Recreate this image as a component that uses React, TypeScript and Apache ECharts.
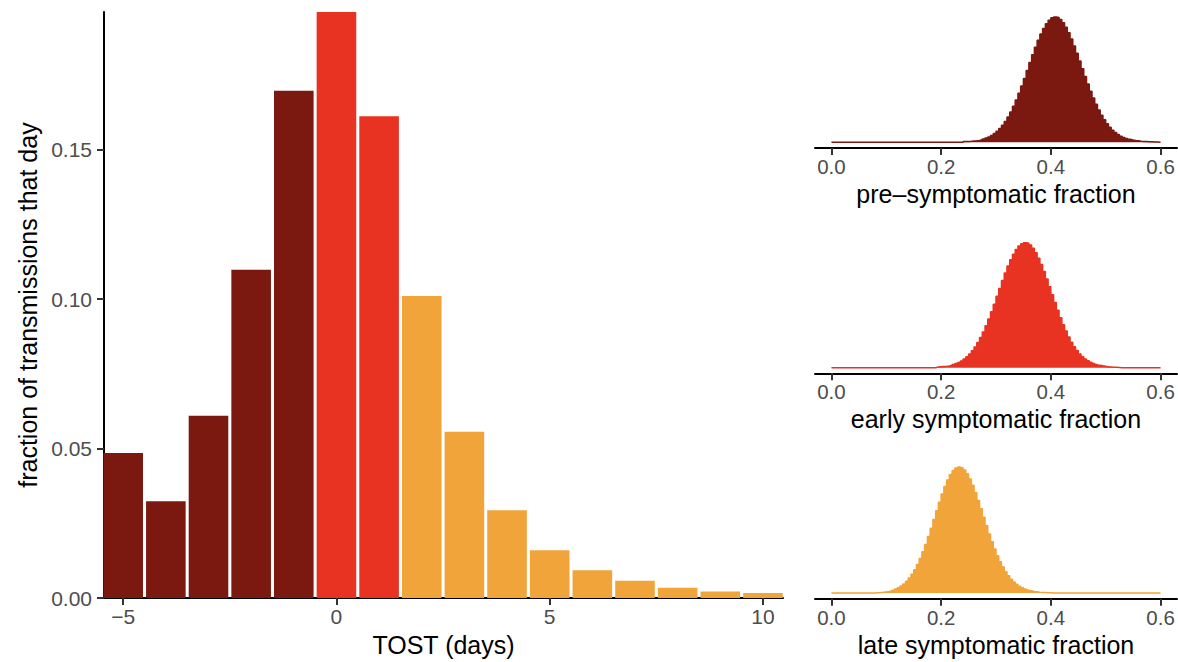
import React, { useEffect, useRef } from "react";
import * as echarts from "echarts";

// ---- Main chart data: TOST histogram ----
const tostDays = [-5, -4, -3, -2, -1, 0, 1, 2, 3, 4, 5, 6, 7, 8, 9, 10];
const tostFraction = [
  0.0485, 0.0324, 0.061, 0.1098, 0.1697, 0.196, 0.1611, 0.101,
  0.0556, 0.0294, 0.016, 0.0093, 0.0058, 0.0035, 0.0022, 0.0017,
];
const tostPhase = [
  "pre", "pre", "pre", "pre", "pre", "early", "early", "late",
  "late", "late", "late", "late", "late", "late", "late", "late",
];
const yTicks = [0, 0.05, 0.1, 0.15];
const xTicks = [-5, 0, 5, 10];

// ---- Right panels: posterior histograms (bin width 0.005, relative heights) ----
const binWidth = 0.005;
const fracTicks = [0, 0.2, 0.4, 0.6];

const preSympHist = [
  0, 0, 0, 0, 0, 0, 0, 0, 0, 0,
  0, 0, 0, 0, 0, 0, 0, 0, 0, 0,
  0, 0, 0, 0, 0, 0, 0, 0, 0, 0,
  0, 0, 0, 0, 0, 0, 0, 0, 0, 0,
  0, 0, 0, 0, 0, 0, 0, 0, 0.6, 0.7,
  0.8, 1.0, 1.2, 1.5, 2.0, 2.6, 3.4, 4.3, 5.5, 7.0,
  8.8, 11.0, 13.6, 16.7, 20.2, 24.2, 28.8, 33.8, 39.2, 45.0,
  51.0, 57.3, 63.6, 69.8, 75.8, 81.4, 86.5, 90.9, 94.6, 97.4,
  99.3, 100, 99.6, 98.0, 95.4, 91.8, 87.4, 82.4, 76.9, 71.0,
  64.9, 58.7, 52.6, 46.6, 40.8, 35.4, 30.4, 25.8, 21.7, 18.0,
  14.8, 12.0, 9.7, 7.8, 6.2, 4.9, 3.9, 3.1, 2.4, 1.9,
  1.5, 1.2, 0.9, 0.7, 0.6, 0.5, 0.4, 0.3, 0.2, 0.1,
];

const earlySympHist = [
  0, 0, 0, 0, 0, 0, 0, 0, 0, 0,
  0, 0, 0, 0, 0, 0, 0, 0, 0, 0,
  0, 0, 0, 0, 0, 0, 0, 0, 0, 0,
  0, 0, 0, 0, 0, 0, 0, 0, 0.5, 0.7,
  0.9, 1.1, 1.4, 1.9, 2.5, 3.3, 4.2, 5.4, 6.9, 8.7,
  10.9, 13.5, 16.6, 20.1, 24.1, 28.6, 33.6, 39.0, 44.8, 50.8,
  57.1, 63.4, 69.7, 75.7, 81.3, 86.4, 90.8, 94.5, 97.4, 99.2,
  100, 99.7, 98.2, 95.6, 92.0, 87.6, 82.5, 76.9, 70.9, 64.7,
  58.4, 52.1, 45.9, 40.0, 34.4, 29.3, 24.6, 20.4, 16.8, 13.7,
  11.0, 8.8, 7.0, 5.5, 4.3, 3.3, 2.6, 2.0, 1.5, 1.1,
  0.8, 0.6, 0.4, 0.3, 0.2, 0, 0, 0, 0, 0,
  0, 0, 0, 0, 0, 0, 0, 0, 0, 0,
];

const lateSympHist = [
  0, 0, 0, 0, 0, 0, 0, 0, 0, 0,
  0, 0, 0, 0, 0, 0, 0.3, 0.4, 0.6, 0.9,
  1.2, 1.7, 2.3, 3.1, 4.2, 5.5, 7.2, 9.3, 11.9, 14.9,
  18.5, 22.7, 27.4, 32.7, 38.5, 44.8, 51.4, 58.3, 65.2, 72.0,
  78.5, 84.5, 89.7, 94.1, 97.3, 99.3, 100, 99.4, 97.6, 94.6,
  90.5, 85.5, 79.7, 73.4, 66.8, 60.1, 53.4, 46.9, 40.7, 34.9,
  29.6, 24.8, 20.6, 16.9, 13.7, 11.0, 8.8, 6.9, 5.4, 4.2,
  3.2, 2.4, 1.8, 1.3, 1.0, 0.7, 0.5, 0.4, 0.3, 0.2,
  0, 0, 0, 0, 0, 0, 0, 0, 0, 0,
  0, 0, 0, 0, 0, 0, 0, 0, 0, 0,
  0, 0, 0, 0, 0, 0, 0, 0, 0, 0,
  0, 0, 0, 0, 0, 0, 0, 0, 0, 0,
];

const panelTitles = [
  "pre–symptomatic fraction",
  "early symptomatic fraction",
  "late symptomatic fraction",
];

const phaseColors: Record<string, string> = {
  pre: "#7B1810",
  early: "#E83322",
  late: "#F0A43A",
};
const panelColors = [phaseColors.pre, phaseColors.early, phaseColors.late];
const panelHists = [preSympHist, earlySympHist, lateSympHist];

const FONT = "'Liberation Sans', Arial, Helvetica, sans-serif";

function stepData(hist: number[]) {
  const pts: number[][] = hist.map((h, i) => [+(i * binWidth).toFixed(4), h]);
  pts.push([+(hist.length * binWidth).toFixed(4), hist[hist.length - 1]]);
  return pts;
}

function fmtMinus(v: number, digits: number) {
  const s = Math.abs(v).toFixed(digits);
  return v < 0 ? "\u2212" + s : s;
}

export default function App() {
  const ref = useRef<HTMLDivElement>(null);

  useEffect(() => {
    if (!ref.current) return;
    const chart = echarts.init(ref.current, null, { renderer: "svg" });

    const panelTops = [10.7, 236.5, 460.7];
    const panelHeights = [137.3, 136.8, 138];

    const grids: any[] = [
      { left: 104, top: 12, width: 679, height: 588, containLabel: false },
    ];
    panelTops.forEach((t, i) => {
      grids.push({ left: 815, top: t, width: 362, height: panelHeights[i], containLabel: false });
    });

    const axisLineStyle = { color: "#000", width: 2 };
    const tickStyle = { color: "#333", width: 2 };

    const xAxes: any[] = [
      {
        type: "value",
        gridIndex: 0,
        min: -5.45,
        max: 10.47,
        axisLine: { show: true, onZero: false, lineStyle: axisLineStyle },
        axisTick: { show: true, length: 7, lineStyle: tickStyle, customValues: xTicks },
        axisLabel: {
          customValues: xTicks,
          margin: 8,
          fontSize: 21,
          color: "#4D4D4D",
          fontFamily: FONT,
          formatter: (v: number) => (xTicks.indexOf(v) >= 0 ? fmtMinus(v, 0) : ""),
        },
        splitLine: { show: false },
        name: "TOST (days)",
        nameLocation: "middle",
        nameGap: 33.5,
        nameTextStyle: { fontSize: 25, color: "#000", fontFamily: FONT },
      },
    ];
    const yAxes: any[] = [
      {
        type: "value",
        gridIndex: 0,
        min: 0,
        max: 0.196,
        interval: 0.05,
        axisLine: { show: true, onZero: false, lineStyle: axisLineStyle },
        axisTick: { show: true, length: 7, lineStyle: tickStyle, customValues: yTicks },
        axisLabel: {
          customValues: yTicks,
          margin: 12,
          fontSize: 21,
          color: "#4D4D4D",
          fontFamily: FONT,
          formatter: (v: number) =>
            yTicks.some((t) => Math.abs(t - v) < 1e-9) ? v.toFixed(2) : "",
        },
        splitLine: { show: false },
        name: "fraction of transmissions that day",
        nameLocation: "middle",
        nameGap: 58.5,
        nameTextStyle: { fontSize: 25, color: "#000", fontFamily: FONT },
      },
    ];

    panelTitles.forEach((title, i) => {
      xAxes.push({
        type: "value",
        gridIndex: i + 1,
        min: -0.03,
        max: 0.63,
        axisLine: { show: true, onZero: false, lineStyle: axisLineStyle },
        axisTick: { show: true, length: 7, lineStyle: tickStyle, customValues: fracTicks },
        axisLabel: {
          customValues: fracTicks,
          margin: 8,
          fontSize: 20.5,
          color: "#4D4D4D",
          fontFamily: FONT,
          formatter: (v: number) =>
            fracTicks.some((t) => Math.abs(t - v) < 1e-9) ? v.toFixed(1) : "",
        },
        splitLine: { show: false },
        name: title,
        nameLocation: "middle",
        nameGap: 33.5,
        nameTextStyle: { fontSize: 25, color: "#000", fontFamily: FONT },
      });
      yAxes.push({
        type: "value",
        gridIndex: i + 1,
        min: -4.5,
        max: 105,
        show: false,
        axisLine: { show: false },
        splitLine: { show: false },
      });
    });

    const series: any[] = [
      {
        type: "bar",
        xAxisIndex: 0,
        yAxisIndex: 0,
        barWidth: 39.6,
        clip: true,
        data: tostDays.map((d, i) => ({
          value: [d, tostFraction[i]],
          itemStyle: { color: phaseColors[tostPhase[i]] },
        })),
      },
    ];
    panelHists.forEach((hist, i) => {
      series.push({
        type: "line",
        xAxisIndex: i + 1,
        yAxisIndex: i + 1,
        step: "end",
        symbol: "none",
        data: stepData(hist),
        lineStyle: { color: panelColors[i], width: 1.5 },
        areaStyle: { color: panelColors[i], opacity: 1 },
      });
    });

    chart.setOption({
      animation: false,
      backgroundColor: "#fff",
      textStyle: { fontFamily: FONT },
      grid: grids,
      xAxis: xAxes,
      yAxis: yAxes,
      series,
    });

    return () => chart.dispose();
  }, []);

  return (
    <div
      ref={ref}
      style={{ position: "fixed", left: 0, top: 0, width: 1178, height: 662, background: "#fff" }}
    />
  );
}
